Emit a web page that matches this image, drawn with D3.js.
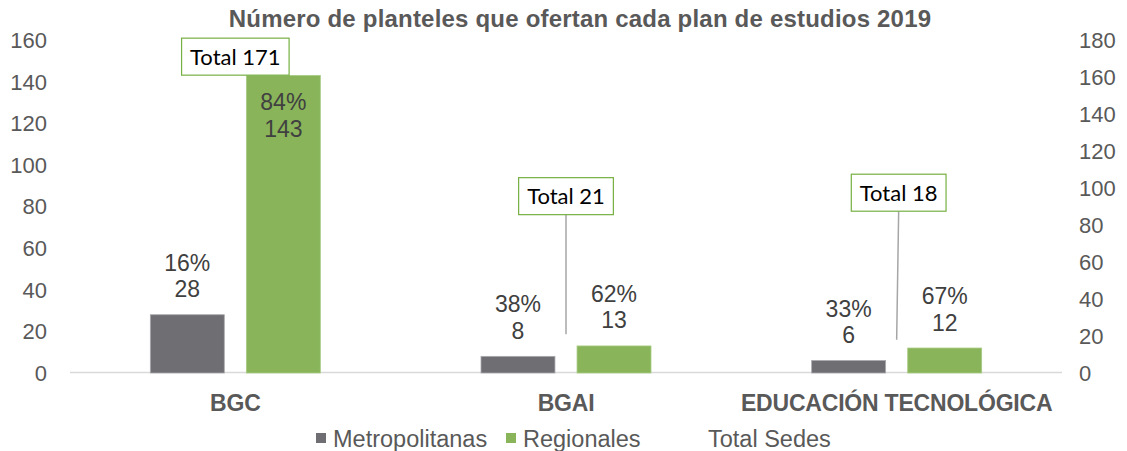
<!DOCTYPE html>
<html>
<head>
<meta charset="utf-8">
<script src="https://cdn.jsdelivr.net/npm/d3@7"></script>
<style>
  body { margin: 0; background: #fff; }
  svg { display: block; font-family: "Liberation Sans", Arial, sans-serif; }
</style>
</head>
<body>
<svg id="chart" width="1127" height="451"></svg>
<script>
// data
const categories = ["BGC", "BGAI", "EDUCACIÓN TECNOLÓGICA"];
const metropolitanas = [28, 8, 6];
const regionales = [143, 13, 12];
const metroPct = ["16%", "38%", "33%"];
const regPct = ["84%", "62%", "67%"];
const totalSedes = [171, 21, 18];
const leftTicks = [0, 20, 40, 60, 80, 100, 120, 140, 160];
const rightTicks = [0, 20, 40, 60, 80, 100, 120, 140, 160, 180];
const seriesNames = ["Metropolitanas", "Regionales"];

// label placement for the total callouts (pixel offset from the point)
const totalLabelShift = [[0, 0], [0, -138], [2, -147]];

const svg = d3.select("#chart");
const margin = { left: 70, right: 65, top: 40, bottom: 78 };
const width = 1127, height = 451;
const plotBottom = height - margin.bottom; // 373

const x0 = d3.scaleBand().domain(categories).range([margin.left, width - margin.right]);
const bw = x0.bandwidth();
const x1 = d3.scaleBand().domain(seriesNames).range([bw / 2 - 85, bw / 2 + 85]).paddingInner(0.23);
const y = d3.scaleLinear().domain([0, 160]).range([plotBottom, margin.top]);
const y2 = d3.scaleLinear().domain([0, 180]).range([plotBottom, margin.top]);

const colors = { Metropolitanas: "#6f6e73", Regionales: "#89b45a" };
const textColor = "#595959";

// title
svg.append("text")
  .attr("x", 580).attr("y", 27)
  .attr("text-anchor", "middle")
  .style("font-size", "24px")
  .style("font-weight", "bold")
  .style("letter-spacing", "0.2px")
  .style("fill", textColor)
  .text("Número de planteles que ofertan cada plan de estudios 2019");

// left axis
svg.append("g").selectAll("text").data(leftTicks).enter().append("text")
  .attr("x", 47).attr("y", (d) => y(d))
  .attr("dy", "0.36em")
  .attr("text-anchor", "end")
  .style("font-size", "22px")
  .style("fill", textColor)
  .text((d) => d);

// right axis
svg.append("g").selectAll("text").data(rightTicks).enter().append("text")
  .attr("x", 1079).attr("y", (d) => y2(d))
  .attr("dy", "0.36em")
  .attr("text-anchor", "start")
  .style("font-size", "22px")
  .style("fill", textColor)
  .text((d) => d);

// baseline
svg.append("line")
  .attr("x1", margin.left).attr("x2", width - margin.right)
  .attr("y1", y(0) - 0.5).attr("y2", y(0) - 0.5)
  .style("stroke", "#d9d9d9").style("stroke-width", 1.5);

// bars
const rows = categories.map((c, i) => ({
  cat: c,
  vals: [
    { s: "Metropolitanas", v: metropolitanas[i], p: metroPct[i] },
    { s: "Regionales", v: regionales[i], p: regPct[i] },
  ],
}));

const groups = svg.append("g").selectAll("g").data(rows).enter().append("g")
  .attr("transform", (d) => `translate(${x0(d.cat)},0)`);

groups.selectAll("rect").data((d) => d.vals).enter().append("rect")
  .attr("x", (d) => x1(d.s))
  .attr("width", x1.bandwidth())
  .attr("y", (d) => y(d.v))
  .attr("height", (d) => y(0) - y(d.v))
  .style("fill", (d) => colors[d.s])
  .style("stroke", (d) => d.s === "Metropolitanas" ? "#a9a8ad" : "#a8cc85")
  .style("stroke-width", 0.8);

// data labels: percentage + value
const labels = groups.selectAll("text.val").data((d) => d.vals).enter().append("text")
  .attr("class", "val")
  .attr("x", (d) => x1(d.s) + x1.bandwidth() / 2)
  .attr("text-anchor", "middle")
  .style("font-size", "23px")
  .style("fill", "#404040");
labels.append("tspan")
  .attr("x", (d) => x1(d.s) + x1.bandwidth() / 2)
  .attr("y", (d) => (d.v > 100 ? y(d.v) + 35 : y(d.v) - 44))
  .text((d) => d.p);
labels.append("tspan")
  .attr("x", (d) => x1(d.s) + x1.bandwidth() / 2)
  .attr("dy", 26.5)
  .text((d) => d.v);

// category labels
svg.append("g").selectAll("text").data(categories).enter().append("text")
  .attr("x", (d) => x0(d) + bw / 2)
  .attr("y", 411)
  .attr("text-anchor", "middle")
  .style("font-size", "23px")
  .style("font-weight", "bold")
  .style("letter-spacing", "-0.2px")
  .style("fill", textColor)
  .text((d) => d);

// total sedes callouts (secondary axis)
const totals = svg.append("g").selectAll("g").data(totalSedes).enter().append("g");
totals.each(function (d, i) {
  const g = d3.select(this);
  const px = x0(categories[i]) + bw / 2;
  const py = y2(d);
  const lx = px + totalLabelShift[i][0];
  const ly = py + totalLabelShift[i][1];
  const label = `Total ${d}`;
  const t = g.append("text")
    .attr("x", lx).attr("y", ly)
    .attr("dy", "0.36em")
    .attr("text-anchor", "middle")
    .style("font-family", "Lato, 'Open Sans', sans-serif")
    .style("font-size", "22px")
    .style("fill", "#000")
    .text(label);
  const bb = t.node().getBBox();
  const boxW = bb.width + 17, boxH = 37;
  if (totalLabelShift[i][1] !== 0) {
    g.insert("line", "text")
      .attr("x1", px).attr("y1", py)
      .attr("x2", lx).attr("y2", ly + boxH / 2)
      .style("stroke", "#a6a6a6").style("stroke-width", 1.5);
  }
  g.insert("rect", "text")
    .attr("x", lx - boxW / 2).attr("y", ly - boxH / 2)
    .attr("width", boxW).attr("height", boxH)
    .style("fill", "#fff")
    .style("stroke", "#76b043").style("stroke-width", 1.2);
});

// legend
const legend = svg.append("g");
const legendItems = [
  { name: "Metropolitanas", x: 316, color: colors.Metropolitanas },
  { name: "Regionales", x: 506, color: colors.Regionales },
  { name: "Total Sedes", x: 691, color: null },
];
legendItems.forEach((d) => {
  if (d.color) {
    legend.append("rect")
      .attr("x", d.x).attr("y", 433)
      .attr("width", 10).attr("height", 10)
      .style("fill", d.color);
  }
  legend.append("text")
    .attr("x", d.x + 17).attr("y", 447)
    .style("font-size", "23.5px")
    .style("fill", textColor)
    .text(d.name);
});
</script>
</body>
</html>
